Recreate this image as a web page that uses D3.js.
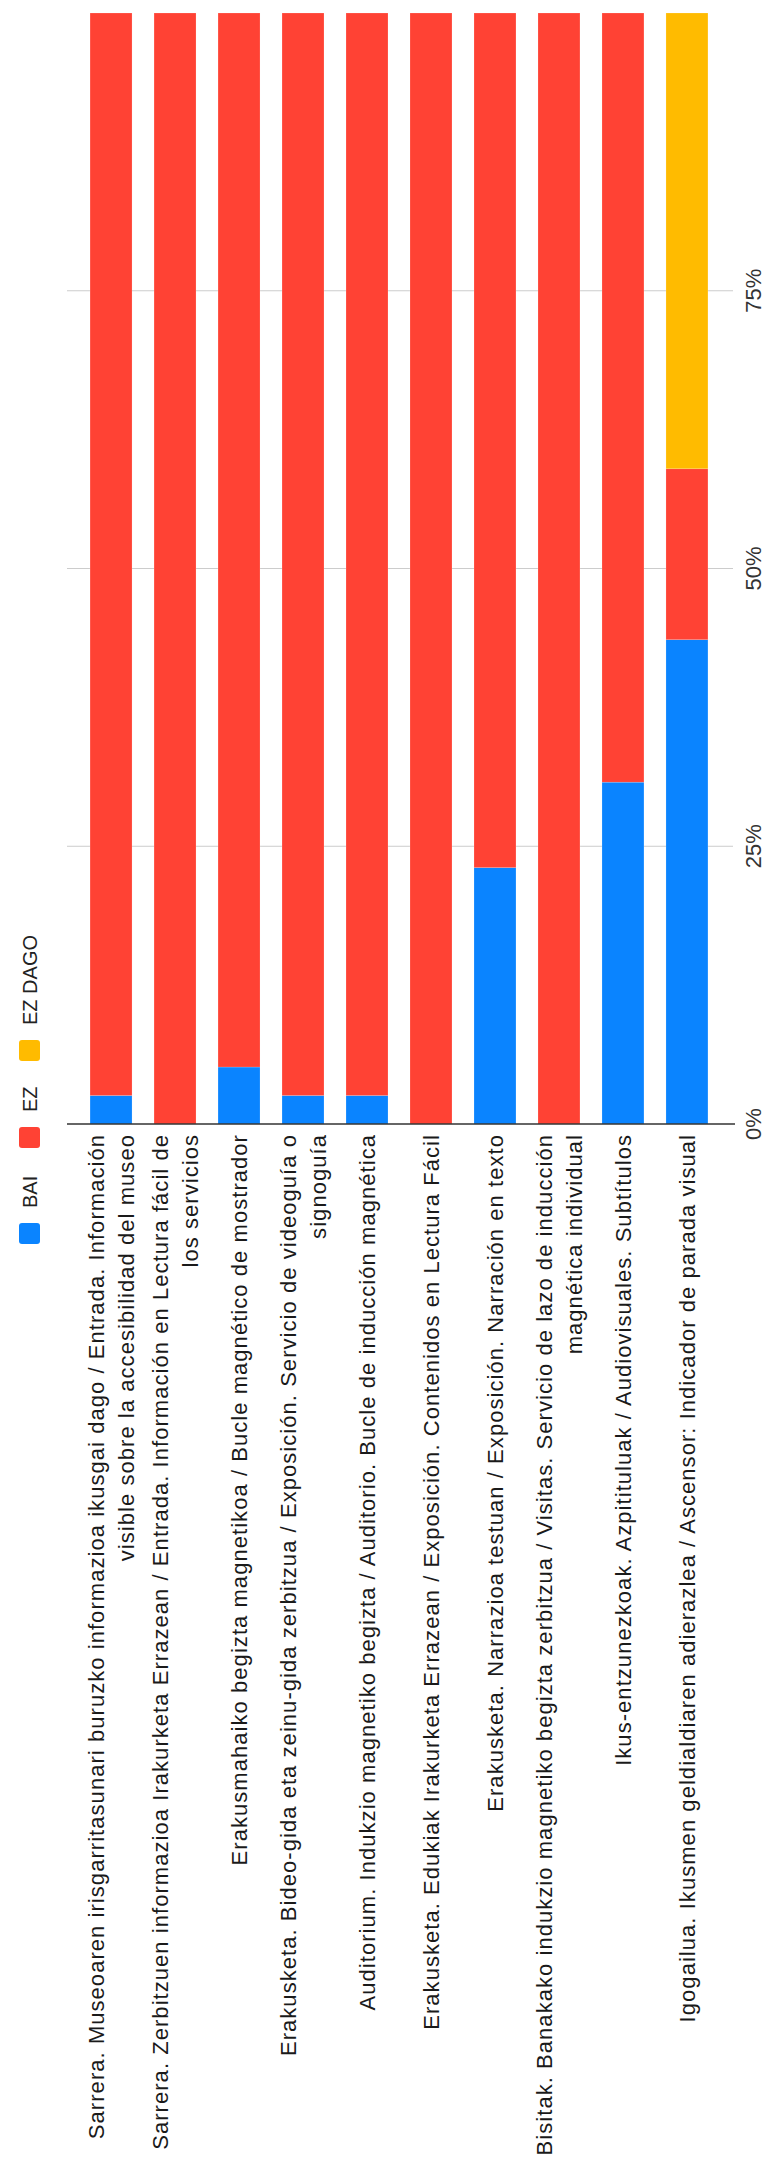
<!DOCTYPE html>
<html>
<head>
<meta charset="utf-8">
<script src="https://cdn.jsdelivr.net/npm/d3@7"></script>
<style>
  html, body { margin: 0; padding: 0; background: #fff; }
  svg { display: block; font-family: "Liberation Sans", Arial, sans-serif; }
</style>
</head>
<body>
<svg id="chart" width="767" height="2170"></svg>
<script>
// ---- data ----
const categories = [
  ["Sarrera. Museoaren irisgarritasunari buruzko informazioa ikusgai dago / Entrada. Información", "visible sobre la accesibilidad del museo"],
  ["Sarrera. Zerbitzuen informazioa Irakurketa Errazean / Entrada. Información en Lectura fácil de", "los servicios"],
  ["Erakusmahaiko begizta magnetikoa / Bucle magnético de mostrador"],
  ["Erakusketa. Bideo-gida eta zeinu-gida zerbitzua / Exposición. Servicio de videoguía o", "signoguía"],
  ["Auditorium. Indukzio magnetiko begizta / Auditorio. Bucle de inducción magnética"],
  ["Erakusketa. Edukiak Irakurketa Errazean / Exposición. Contenidos en Lectura Fácil"],
  ["Erakusketa. Narrazioa testuan / Exposición. Narración en texto"],
  ["Bisitak. Banakako indukzio magnetiko begizta zerbitzua / Visitas. Servicio de lazo de inducción", "magnética individual"],
  ["Ikus-entzunezkoak. Azpitituluak / Audiovisuales. Subtítulos"],
  ["Igogailua. Ikusmen geldialdiaren adierazlea / Ascensor: Indicador de parada visual"]
];
const seriesNames = ["BAI", "EZ", "EZ DAGO"];
const bai    = [1, 0, 2, 1, 1, 0, 9, 0, 12, 17];
const ez     = [38, 39, 37, 38, 38, 39, 30, 39, 27, 6];
const ezDago = [0, 0, 0, 0, 0, 0, 0, 0, 0, 16];
const tickValues = [0, 0.25, 0.5, 0.75];
const tickLabels = ["0%", "25%", "50%", "75%"];
const colors = ["#0a84ff", "#ff4234", "#ffbb00"];

// ---- layout (drawn in an unrotated frame, then rotated -90deg) ----
const W = 2170, H = 767;
const svg = d3.select("#chart");
const g = svg.append("g").attr("transform", `translate(0,${W}) rotate(-90)`);

const rows = categories.map((c, i) => {
  const tot = bai[i] + ez[i] + ezDago[i];
  return { i, lines: c, vals: [bai[i] / tot, ez[i] / tot, ezDago[i] / tot] };
});

const x = d3.scaleLinear().domain([0, 1]).range([1046, 2157]);
const y = d3.scaleBand().domain(d3.range(categories.length)).range([67, 731])
  .paddingInner(0.344).paddingOuter(0.36);

// gridlines
g.append("g").selectAll("line").data(tickValues.filter(d => d > 0)).join("line")
  .attr("x1", d => x(d)).attr("x2", d => x(d))
  .attr("y1", 67).attr("y2", 733)
  .attr("stroke", "#cccccc").attr("stroke-width", 1);

// stacked bars
const stack = d3.stack().keys([0, 1, 2]).value((d, k) => d.vals[k]);
const layers = stack(rows);
g.append("g").selectAll("g").data(layers).join("g")
  .attr("fill", (d, k) => colors[k])
  .selectAll("rect").data(d => d).join("rect")
  .attr("x", d => x(d[0]))
  .attr("width", d => Math.max(0, x(d[1]) - x(d[0])))
  .attr("y", d => y(d.data.i))
  .attr("height", y.bandwidth())
  .attr("stroke", "#ffffff").attr("stroke-opacity", 0.35).attr("stroke-width", 0.5);

// baseline
g.append("line")
  .attr("x1", x(0)).attr("x2", x(0))
  .attr("y1", 67).attr("y2", 735)
  .attr("stroke", "#333333").attr("stroke-width", 1.5);

// value tick labels
g.append("g").selectAll("text").data(tickValues).join("text")
  .attr("x", d => x(d)).attr("y", 761)
  .attr("text-anchor", "middle")
  .attr("font-size", 22).attr("fill", "#333")
  .text((d, i) => tickLabels[i]);

// category labels
const lineH = 30;
const lab = g.append("g").selectAll("text").data(rows).join("text")
  .attr("text-anchor", "end")
  .attr("font-size", 22).attr("letter-spacing", "1.05px").attr("fill", "#1a1a1a")
  .attr("transform", d => `translate(1036,${y(d.i) + y.bandwidth() / 2})`);
lab.selectAll("tspan").data(d => d.lines.map((t, k) => ({ t, k, n: d.lines.length }))).join("tspan")
  .attr("x", 0)
  .attr("y", d => (d.k - (d.n - 1) / 2) * lineH)
  .attr("dy", "0.36em")
  .text(d => d.t);

// legend
const legendX = [926, 1022, 1109];
const lg = g.append("g").selectAll("g").data(seriesNames).join("g")
  .attr("transform", (d, i) => `translate(${legendX[i]},19)`);
lg.append("rect").attr("width", 21).attr("height", 21).attr("rx", 3)
  .attr("fill", (d, i) => colors[i]);
lg.append("text").attr("x", 36).attr("y", 10.5).attr("dy", "0.36em")
  .attr("font-size", 20).attr("fill", "#222").text(d => d);
</script>
</body>
</html>
